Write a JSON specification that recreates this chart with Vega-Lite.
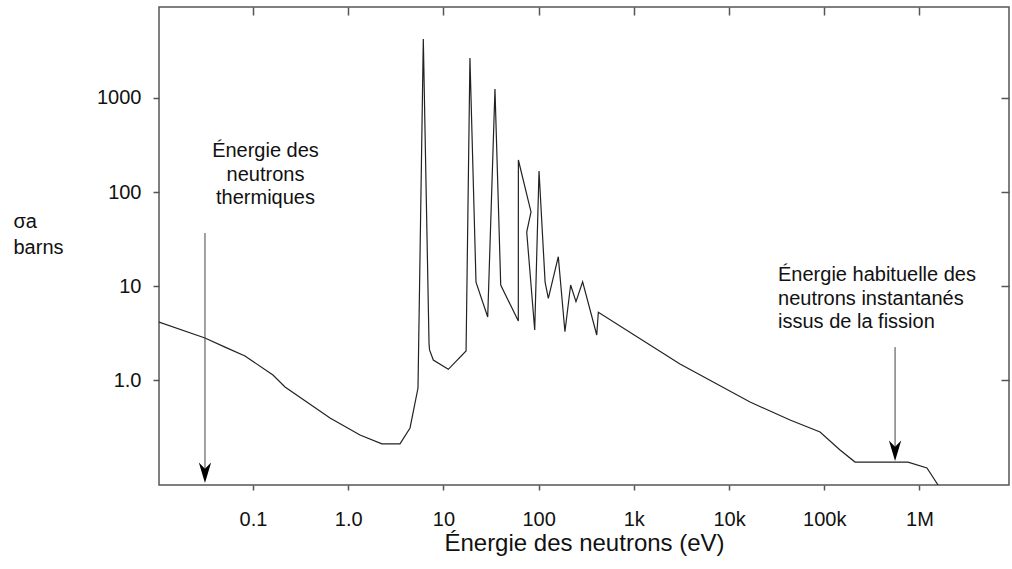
{
  "$schema": "https://vega.github.io/schema/vega-lite/v6.json",
  "width": 850,
  "height": 478,
  "autosize": "none",
  "padding": {"left": 159, "top": 7, "right": 3, "bottom": 84},
  "background": "white",
  "config": {
    "view": {"stroke": "#555", "strokeWidth": 1.5},
    "font": "Liberation Sans",
    "axis": {"grid": false, "domain": false, "tickColor": "#555", "tickWidth": 1.5, "labelFont": "Liberation Sans", "titleFont": "Liberation Sans", "labelColor": "#111", "titleColor": "#111", "titleFontWeight": "normal", "labelFlush": false, "labelOverlap": false}
  },
  "datasets": {
    "curve": [
      {"i": 1, "E": 0.0103, "sigma": 4.14},
      {"i": 2, "E": 0.0313, "sigma": 2.80},
      {"i": 3, "E": 0.0508, "sigma": 2.24},
      {"i": 4, "E": 0.0824, "sigma": 1.80},
      {"i": 5, "E": 0.162, "sigma": 1.13},
      {"i": 6, "E": 0.217, "sigma": 0.842},
      {"i": 7, "E": 0.644, "sigma": 0.394},
      {"i": 8, "E": 1.33, "sigma": 0.260},
      {"i": 9, "E": 2.26, "sigma": 0.209},
      {"i": 10, "E": 3.50, "sigma": 0.209},
      {"i": 11, "E": 4.46, "sigma": 0.309},
      {"i": 12, "E": 5.41, "sigma": 0.822},
      {"i": 13, "E": 6.15, "sigma": 4245},
      {"i": 14, "E": 7.06, "sigma": 2.47},
      {"i": 15, "E": 7.15, "sigma": 2.09},
      {"i": 16, "E": 7.83, "sigma": 1.63},
      {"i": 17, "E": 11.26, "sigma": 1.30},
      {"i": 18, "E": 17.3, "sigma": 2.04},
      {"i": 19, "E": 19.0, "sigma": 2665},
      {"i": 20, "E": 22.0, "sigma": 11.0},
      {"i": 21, "E": 29.2, "sigma": 4.68},
      {"i": 22, "E": 34.8, "sigma": 1247},
      {"i": 23, "E": 40.0, "sigma": 10.25},
      {"i": 24, "E": 61.2, "sigma": 4.24},
      {"i": 25, "E": 61.3, "sigma": 219},
      {"i": 26, "E": 83.2, "sigma": 61.3},
      {"i": 27, "E": 75.0, "sigma": 37.5},
      {"i": 28, "E": 91.0, "sigma": 3.40},
      {"i": 29, "E": 101, "sigma": 167},
      {"i": 30, "E": 117, "sigma": 11.0},
      {"i": 31, "E": 126.5, "sigma": 7.40},
      {"i": 32, "E": 161, "sigma": 20.5},
      {"i": 33, "E": 189, "sigma": 3.26},
      {"i": 34, "E": 217, "sigma": 10.25},
      {"i": 35, "E": 247, "sigma": 6.81},
      {"i": 36, "E": 290, "sigma": 11.1},
      {"i": 37, "E": 408, "sigma": 3.01},
      {"i": 38, "E": 424, "sigma": 5.25},
      {"i": 39, "E": 3055, "sigma": 1.48},
      {"i": 40, "E": 16630, "sigma": 0.583},
      {"i": 41, "E": 43750, "sigma": 0.375},
      {"i": 42, "E": 90400, "sigma": 0.280},
      {"i": 43, "E": 146600, "sigma": 0.180},
      {"i": 44, "E": 210800, "sigma": 0.134},
      {"i": 45, "E": 759000, "sigma": 0.134},
      {"i": 46, "E": 1200000, "sigma": 0.116},
      {"i": 47, "E": 1570000, "sigma": 0.0764}
    ],
    "arrows": [
      {"E": 0.0313, "from": 36.6, "to": 0.11, "tip": 0.0802},
      {"E": 555000, "from": 2.24, "to": 0.18, "tip": 0.1375}
    ],
    "notes": [
      {"E": 0.1353, "sigma": 235.6, "label": "Énergie des\nneutrons\nthermiques", "which": "thermal"},
      {"E": 32730, "sigma": 11.3, "label": "Énergie habituelle des\nneutrons instantanés\nissus de la fission", "which": "fission"}
    ]
  },
  "layer": [
    {
      "data": {"name": "curve"},
      "mark": {"type": "line", "color": "#222", "strokeWidth": 1.2, "clip": true},
      "encoding": {
        "x": {
          "field": "E", "type": "quantitative",
          "scale": {"type": "log", "domain": [0.010294, 8730000], "nice": false},
          "axis": {
            "orient": "bottom",
            "values": [0.1, 1, 10, 100, 1000, 10000, 100000, 1000000],
            "labelExpr": "datum.value >= 999999 ? '1M' : datum.value >= 99999 ? '100k' : datum.value >= 9999 ? '10k' : datum.value >= 999 ? '1k' : datum.value >= 99 ? '100' : datum.value >= 9 ? '10' : datum.value >= 0.9 ? '1.0' : '0.1'",
            "tickSize": 5,
            "labelFontSize": 20,
            "labelBaseline": "alphabetic",
            "labelPadding": 35,
            "title": "Énergie des neutrons (eV)",
            "titleFontSize": 24,
            "titleBaseline": "alphabetic",
            "titleY": 65,
            "titleX": 425
          }
        },
        "y": {
          "field": "sigma", "type": "quantitative",
          "scale": {"type": "log", "domain": [0.0764, 9290], "nice": false},
          "axis": {
            "orient": "left",
            "values": [1, 10, 100, 1000],
            "labelExpr": "datum.value >= 999 ? '1000' : datum.value >= 99 ? '100' : datum.value >= 9 ? '10' : '1.0'",
            "tickSize": 6,
            "labelFontSize": 20,
            "labelPadding": 12,
            "title": ["σa", "barns"],
            "titleFontSize": 20,
            "titleAngle": 0,
            "titleAlign": "left",
            "titleBaseline": "alphabetic",
            "titleLineHeight": 26,
            "titleX": -146,
            "titleY": 220
          }
        },
        "order": {"field": "i", "type": "quantitative"}
      }
    },
    {
      "data": {"name": "arrows"},
      "mark": {"type": "rule", "color": "#444", "strokeWidth": 1},
      "encoding": {
        "x": {
          "field": "E", "type": "quantitative",
          "scale": {"type": "log", "domain": [0.010294, 8730000], "nice": false},
          "axis": {"orient": "top", "values": [0.1, 1, 10, 100, 1000, 10000, 100000, 1000000], "labels": false, "tickSize": -8, "title": null}
        },
        "y": {
          "field": "from", "type": "quantitative",
          "scale": {"type": "log", "domain": [0.0764, 9290], "nice": false},
          "axis": {"orient": "right", "values": [1, 10, 100, 1000], "labels": false, "tickSize": -8, "title": null}
        },
        "y2": {"field": "to"}
      }
    },
    {
      "data": {"name": "arrows"},
      "mark": {"type": "point", "shape": "M0,0L-0.6,-2L0,-1.4L0.6,-2Z", "filled": true, "color": "#000", "opacity": 1, "size": 420},
      "encoding": {
        "x": {"field": "E", "type": "quantitative", "scale": {"type": "log", "domain": [0.010294, 8730000], "nice": false}, "axis": null},
        "y": {"field": "tip", "type": "quantitative", "scale": {"type": "log", "domain": [0.0764, 9290], "nice": false}, "axis": null}
      }
    },
    {
      "data": {"name": "notes"},
      "transform": [{"filter": "datum.which == 'thermal'"}],
      "mark": {"type": "text", "align": "center", "baseline": "alphabetic", "fontSize": 20, "font": "Liberation Sans", "color": "#111", "lineBreak": "\n", "lineHeight": 23.5},
      "encoding": {
        "x": {"field": "E", "type": "quantitative", "scale": {"type": "log", "domain": [0.010294, 8730000], "nice": false}, "axis": null},
        "y": {"field": "sigma", "type": "quantitative", "scale": {"type": "log", "domain": [0.0764, 9290], "nice": false}, "axis": null},
        "text": {"field": "label"}
      }
    },
    {
      "data": {"name": "notes"},
      "transform": [{"filter": "datum.which == 'fission'"}],
      "mark": {"type": "text", "align": "left", "baseline": "alphabetic", "fontSize": 20, "font": "Liberation Sans", "color": "#111", "lineBreak": "\n", "lineHeight": 23.5},
      "encoding": {
        "x": {"field": "E", "type": "quantitative", "scale": {"type": "log", "domain": [0.010294, 8730000], "nice": false}, "axis": null},
        "y": {"field": "sigma", "type": "quantitative", "scale": {"type": "log", "domain": [0.0764, 9290], "nice": false}, "axis": null},
        "text": {"field": "label"}
      }
    }
  ],
  "resolve": {"axis": {"x": "independent", "y": "independent"}}
}
